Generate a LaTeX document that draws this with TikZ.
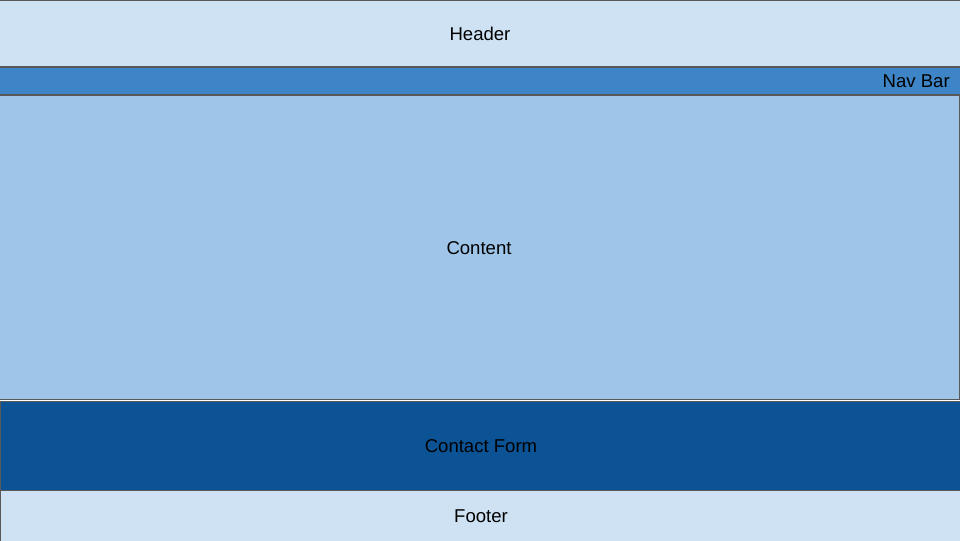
\documentclass[tikz,border=0pt]{standalone}
\usepackage{fontspec}
\setmainfont{Liberation Sans}
\definecolor{paleblue}{HTML}{CFE2F3}
\definecolor{navblue}{HTML}{3D85C6}
\definecolor{lightblue}{HTML}{9FC5E8}
\definecolor{darkblue}{HTML}{0B5394}
\definecolor{edgegray}{HTML}{595959}
\tikzset{
  panel/.style={draw=edgegray, line width=0.7pt, inner sep=0pt, rectangle},
  label/.style={inner sep=0pt, font=\fontsize{13.2}{15}\selectfont}
}

\begin{document}
\begin{tikzpicture}[x=0.025cm, y=-0.025cm]
    \useasboundingbox (0,0) rectangle (960,540);
    \clip (0,0) rectangle (960,540);

    \node[panel, fill=paleblue, minimum width=24cm, minimum height=1.65cm] (header) at (480,33) {};
    \node[panel, fill=navblue, minimum width=24cm, minimum height=0.675cm] (navbar) at (480,80.5) {};
    \node[panel, fill=lightblue, minimum width=23.975cm, minimum height=7.575cm] (content) at (479.5,247.5) {};
    \node[panel, fill=darkblue, minimum width=23.975cm, minimum height=2.225cm] (contact) at (480.5,445.5) {};
    \node[panel, fill=paleblue, minimum width=23.975cm, minimum height=1.35cm] (footer) at (480.5,517) {};

    \node[label] (headertext) at (480,34) {Header};
    \node[label, anchor=east] (navtext) at (950,81) {Nav Bar};
    \node[label] (contenttext) at (479,248) {Content};
    \node[label] (contacttext) at (481,446) {Contact Form};
    \node[label] (footertext) at (481,516) {Footer};
  \end{tikzpicture}
\end{document}
